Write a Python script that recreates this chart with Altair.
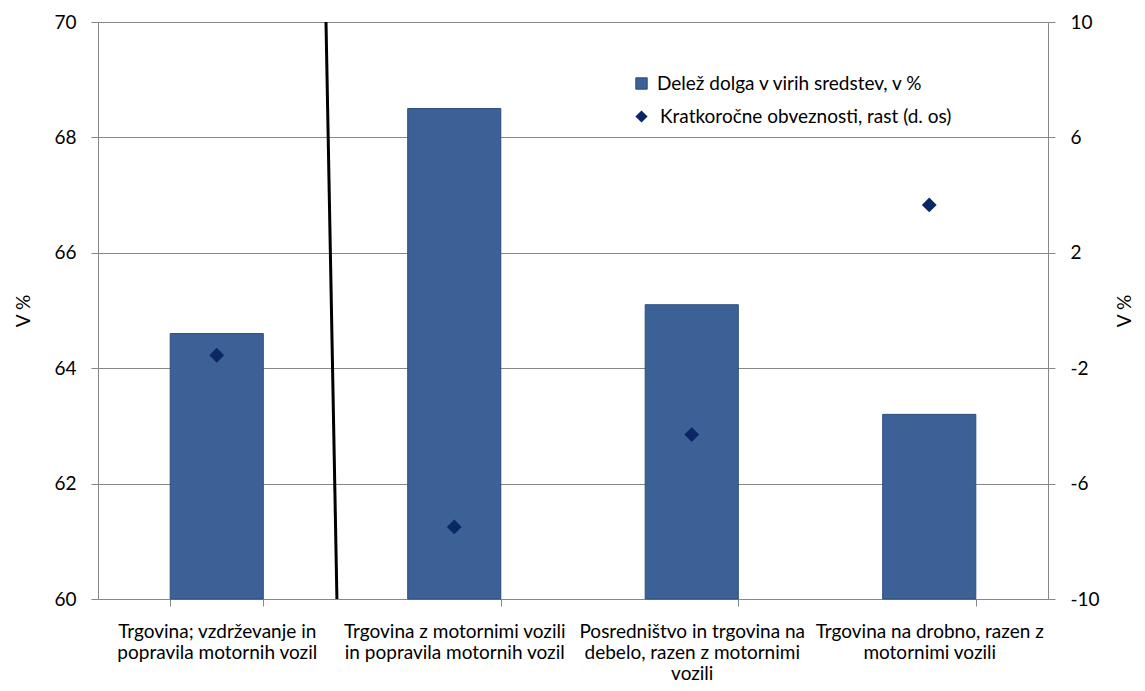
import altair as alt
import pandas as pd

categories = [
    "Trgovina; vzdrževanje in|popravila motornih vozil",
    "Trgovina z motornimi vozili|in popravila motornih vozil",
    "Posredništvo in trgovina na|debelo, razen z motornimi|vozili",
    "Trgovina na drobno, razen z|motornimi vozili",
]
debt_share = [64.6, 68.5, 65.1, 63.2]
liab_growth = [-1.55, -7.5, -4.3, 3.66]
series_bar = "Delež dolga v virih sredstev, v %"
series_pt = "Kratkoročne obveznosti, rast (d. os)"
sep_x = [0.96, 1.006]
sep_y = [70, 60]
base_value = 60

FONT = "Lato"
FS = 19
BAR = "#3B6196"
BAR_STROKE = "#2C4E7C"
DIA = "#0B2766"
GRAY = "#878787"

df = pd.DataFrame({"cat": categories, "debt": debt_share, "growth": liab_growth,
                   "s1": series_bar, "s2": series_pt})
sep = pd.DataFrame({"lx": sep_x, "ly": sep_y})

xenc = alt.X("cat:N", sort=categories, title=None,
             scale=alt.Scale(paddingInner=0.608, paddingOuter=0.304),
             axis=alt.Axis(labelAngle=0, labelExpr="split(datum.label, '|')",
                           tickBand="extent", grid=False, domainColor=GRAY,
                           tickColor=GRAY, tickSize=7, labelPadding=16,
                           labelLineHeight=21, labelFontSize=FS, labelFont=FONT,
                           labelColor="#000000", labelBaseline="top", labelLimit=0))

bars = alt.Chart(df).mark_bar(stroke=BAR_STROKE, strokeWidth=1).encode(
    x=xenc,
    y=alt.Y("debt:Q", scale=alt.Scale(domain=[60, 70], nice=False, zero=False),
            title="V %",
            axis=alt.Axis(values=[60, 62, 64, 66, 68, 70], orient="left",
                          grid=True, gridColor=GRAY, domainColor=GRAY,
                          tickColor=GRAY, tickSize=7, labelPadding=15,
                          labelFontSize=FS, labelFont=FONT, labelColor="#000000",
                          titleFont=FONT, titleFontSize=FS, titleFontWeight="normal",
                          titleColor="#000000", titlePadding=20)),
    y2=alt.Y2(datum=base_value),
    color=alt.Color("s1:N", scale=alt.Scale(range=[BAR]),
                    legend=alt.Legend(orient="none", legendX=534, legendY=52,
                                      title=None, symbolType="square",
                                      symbolSize=130, symbolStrokeColor=BAR_STROKE,
                                      symbolStrokeWidth=1, labelFont=FONT,
                                      labelFontSize=FS, labelColor="#000000",
                                      labelOffset=6, padding=0, labelLimit=0)),
)

points = alt.Chart(df).mark_point(shape="diamond", filled=True, size=220, opacity=1).encode(
    x=alt.X("cat:N", sort=categories, axis=None),
    y=alt.Y("growth:Q", scale=alt.Scale(domain=[-10, 10], nice=False, zero=False),
            title="V %",
            axis=alt.Axis(values=[-10, -6, -2, 2, 6, 10], orient="right",
                          grid=False, domainColor=GRAY, tickColor=GRAY,
                          tickSize=7, labelPadding=15, labelFontSize=FS,
                          labelFont=FONT, labelColor="#000000",
                          labelExpr="'' + datum.value",
                          titleFont=FONT, titleFontSize=FS, titleFontWeight="normal",
                          titleColor="#000000", titlePadding=16,
                          titleAngle=270, titleBaseline="top")),
    color=alt.Color("s2:N", scale=alt.Scale(range=[DIA]),
                    legend=alt.Legend(orient="none", legendX=534, legendY=85,
                                      title=None, symbolType="diamond",
                                      symbolSize=150, labelFont=FONT,
                                      labelFontSize=FS, labelColor="#000000",
                                      labelOffset=9, padding=0, labelLimit=0)),
)

line = alt.Chart(sep).mark_line(color="#000000", strokeWidth=3).encode(
    x=alt.X("lx:Q", scale=alt.Scale(domain=[0, 4], nice=False, zero=False), axis=None),
    y=alt.Y("ly:Q", scale=alt.Scale(domain=[60, 70], nice=False, zero=False), axis=None),
)

chart = alt.layer(bars, line, points).resolve_scale(
    x="independent", y="independent", color="independent"
).properties(
    width=950, height=577,
    autosize=alt.AutoSizeParams(type="none"),
    padding={"left": 90, "top": 14, "right": 89, "bottom": 84},
).configure_view(stroke=None).configure_axis(domainWidth=1, gridWidth=1)

chart.save("out.html", embed_options={"renderer": "svg", "actions": False})
